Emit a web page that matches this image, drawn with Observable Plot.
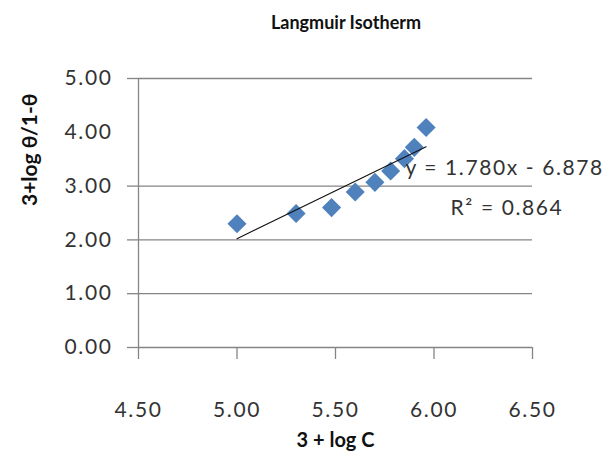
<!DOCTYPE html>
<html>
<head>
<meta charset="utf-8">
<script src="https://cdn.jsdelivr.net/npm/d3@7"></script>
<script src="https://cdn.jsdelivr.net/npm/@observablehq/plot@0.6"></script>
<style>
  body { margin: 0; background: #fff; }
  #wrap { width: 610px; height: 458px; position: relative; font-family: Lato, "Open Sans", sans-serif; }
  #title { height: 40px; width: 610px; box-sizing: border-box; padding-left: 82px; text-align: center; font-weight: bold; font-size: 18px; line-height: 44px; color: #111; }
  svg text { font-family: Lato, "Open Sans", sans-serif; }
  .spaced text { letter-spacing: 1.6px; }
</style>
</head>
<body>
<div id="wrap">
  <div id="title">Langmuir Isotherm</div>
  <div id="chart"></div>
</div>
<script>
// Data
const titleText = "Langmuir Isotherm";
const xLabel = "3 + log C";
const yLabel = "3+log θ/1-θ";
const xValues = [5.00, 5.30, 5.48, 5.60, 5.70, 5.78, 5.85, 5.90, 5.96];
const yValues = [2.30, 2.49, 2.60, 2.89, 3.07, 3.28, 3.51, 3.72, 4.09];
const xTicks = [4.5, 5.0, 5.5, 6.0, 6.5];
const yTicks = [0, 1, 2, 3, 4, 5];
const yGridTicks = [0, 1, 2, 3, 5];
const slope = 1.780;
const intercept = -6.878;
const r2 = 0.864;
const eqText = "y = 1.780x - 6.878";
const r2Text = "R² = 0.864";

const points = xValues.map((x, i) => ({x, y: yValues[i]}));
const xExt = d3.extent(xValues);
const trend = xExt.map(x => ({x, y: slope * x + intercept}));
const fmt = d3.format(".2f");

const chart = Plot.plot({
  width: 610,
  height: 418,
  marginLeft: 138,
  marginRight: 78,
  marginTop: 38,
  marginBottom: 111,
  x: {domain: [4.5, 6.5]},
  y: {domain: [0, 5]},
  style: {fontFamily: "Lato, 'Open Sans', sans-serif", color: "#222", background: "#fff"},
  marks: [
    Plot.ruleY(yGridTicks, {stroke: "#858585", strokeWidth: 1.3}),
    Plot.ruleX([4.5], {stroke: "#858585", strokeWidth: 1.3}),
    Plot.axisY({ticks: yGridTicks, tickSize: 11, tickFormat: () => "", stroke: "#858585", strokeWidth: 1.3, label: null}),
    Plot.axisY({ticks: yTicks, tickSize: 0, tickPadding: 26, tickFormat: fmt, fontSize: 21, fill: "#333", label: null, className: "spaced"}),
    Plot.axisX({ticks: xTicks, tickSize: 12, tickPadding: 43, tickFormat: fmt, fontSize: 21, fill: "#333", stroke: "#858585", strokeWidth: 1.3, label: null, className: "spaced"}),
    Plot.dot(points, {x: "x", y: "y", symbol: "diamond2", r: 8.6, fill: "#4F81BD", stroke: "none"}),
    Plot.line(trend, {x: "x", y: "y", stroke: "#111", strokeWidth: 1.1}),
    Plot.text([eqText], {x: 5.855, y: 3.33, text: d => d, textAnchor: "start", fontSize: 21, fill: "#333", className: "spaced"}),
    Plot.text([r2Text], {x: 6.084, y: 2.58, text: d => d, textAnchor: "start", fontSize: 21, fill: "#333", className: "spaced"}),
    Plot.text([xLabel], {frameAnchor: "bottom", dy: 99, text: d => d, fontSize: 20, fontWeight: "bold", fill: "#111"}),
    Plot.text([yLabel], {frameAnchor: "left", dx: -108, dy: -7, rotate: -90, text: d => d, fontSize: 21, fontWeight: "bold", fill: "#111"})
  ]
});
document.getElementById("chart").appendChild(chart);
</script>
</body>
</html>
